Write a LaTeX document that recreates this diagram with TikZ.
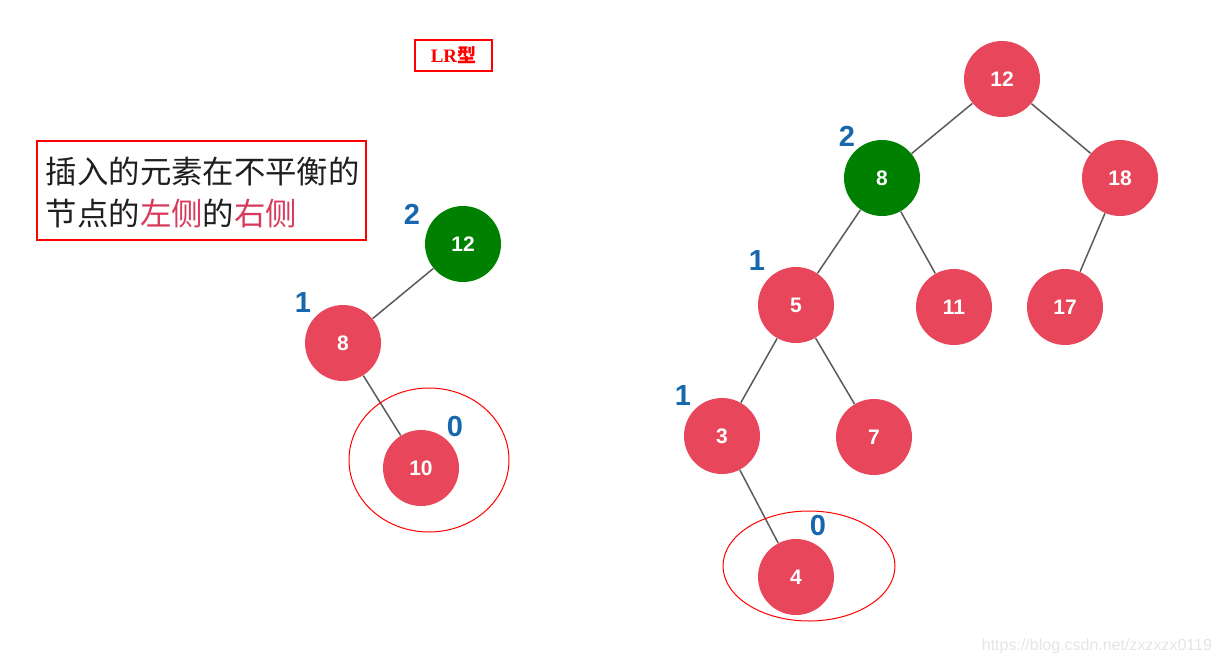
\documentclass[tikz,border=0pt]{standalone}
\usepackage{fontspec}
\setmainfont{Liberation Sans}
\newfontfamily\cjk{Noto Sans CJK SC}
\newfontfamily\serifrm{Liberation Serif}
\usepackage{xcolor}
\usepackage{tikz}
\usetikzlibrary{positioning}

\definecolor{nodered}{HTML}{E8465A}
\definecolor{nodegreen}{HTML}{008000}
\definecolor{balblue}{HTML}{1767AE}
\definecolor{notepink}{HTML}{D83A5C}
\definecolor{edgegray}{HTML}{5A5A5A}

\begin{document}
\begin{tikzpicture}[
  x=0.5pt, y=-0.5pt,
  treenode/.style={
    circle,
    fill=nodered,
    minimum size=38pt,
    inner sep=0pt,
    text=white,
    font=\fontsize{10.5}{12}\selectfont\bfseries
  },
  rotnode/.style={
    treenode,
    fill=nodegreen
  },
  bal/.style={
    text=balblue,
    font=\fontsize{14.5}{16}\selectfont\bfseries
  },
  edge/.style={
    draw=edgegray,
    line width=0.75pt
  },
  ring/.style={
    draw=red,
    line width=0.5pt
  }
]
\useasboundingbox (0,0) rectangle (1227,664);

% Title
\node[
  draw=red,
  line width=0.6pt,
  minimum width=38.5pt,
  minimum height=15.5pt,
  inner sep=0pt,
  text=red,
  font=\fontsize{9.5}{10}\selectfont\bfseries
] (title) at (453.5,55.5) {\serifrm LR\cjk 型};

% Note
\node[
  draw=red,
  line width=0.6pt,
  minimum width=164.5pt,
  minimum height=49.5pt,
  inner sep=0pt,
  align=left,
  text=black!88,
  font=\fontsize{15.7}{21}\selectfont\cjk
] (note) at (201.5,190.5) {};
\node[
  anchor=west,
  inner sep=0pt,
  align=left,
  text=black!88,
  font=\fontsize{15.7}{21}\selectfont\cjk
] (notetext) at ([xshift=4.5pt,yshift=-1pt]note.west)
{插入的元素在不平衡的\\节点的{\color{notepink}左侧}的{\color{notepink}右侧}};

% ---------------- Left tree ----------------
\node[rotnode] (l12) at (463,244) {12};
\node[treenode] (l8) at (343,343) {8};
\node[treenode] (l10) at (421,468) {10};

\draw[edge] (l12) -- (l8);
\draw[edge] (l8) -- (l10);

\node[bal] (bl12) at (412,214) {2};
\node[bal] (bl8) at (303,303) {1};
\node[bal] (bl10) at (455,427) {0};

\draw[ring] (429,460) ellipse [x radius=80, y radius=72];

% ---------------- Right tree ----------------
\node[treenode] (r12) at (1002,79) {12};
\node[rotnode] (r8) at (882,178) {8};
\node[treenode] (r18) at (1120,178) {18};
\node[treenode] (r5) at (796,305) {5};
\node[treenode] (r11) at (954,307) {11};
\node[treenode] (r17) at (1065,307) {17};
\node[treenode] (r3) at (722,436) {3};
\node[treenode] (r7) at (874,437) {7};
\node[treenode] (r4) at (796,577) {4};

\draw[edge] (r12) -- (r8);
\draw[edge] (r12) -- (r18);
\draw[edge] (r8) -- (r5);
\draw[edge] (r8) -- (r11);
\draw[edge] (r18) -- (r17);
\draw[edge] (r5) -- (r3);
\draw[edge] (r5) -- (r7);
\draw[edge] (r3) -- (r4);

\node[bal] (br8) at (847,136) {2};
\node[bal] (br5) at (757,261) {1};
\node[bal] (br3) at (683,396) {1};
\node[bal] (br4) at (818,526) {0};

\draw[ring] (809,566) ellipse [x radius=86, y radius=55];

% Watermark
\node[
  text=black!10,
  anchor=east,
  font=\fontsize{8}{9}\selectfont
] (wm) at (1219,646) {https://blog.csdn.net/zxzxzx0119};

\end{tikzpicture}
\end{document}
